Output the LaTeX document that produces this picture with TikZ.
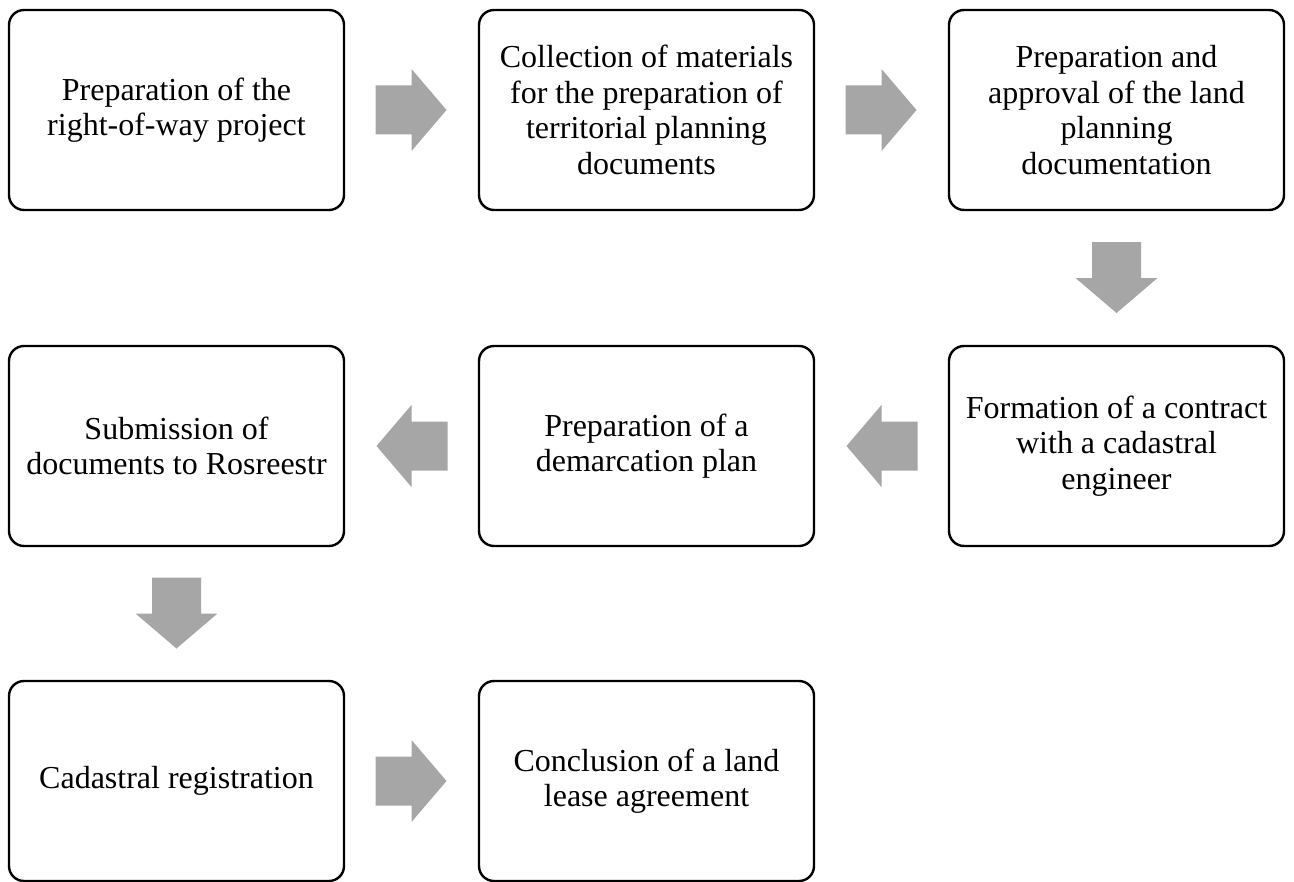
\documentclass[tikz,border=0pt]{standalone}
\usepackage{fontspec}
\setmainfont{Liberation Serif}
\usetikzlibrary{positioning, calc}

\definecolor{arrowgray}{RGB}{166,166,166}

\begin{document}
\begin{tikzpicture}[
    x=0.5pt, y=-0.5pt,
    step box/.style={rectangle, draw=black, line width=1.2pt, rounded corners=7.5pt, minimum width=167.5pt, minimum height=100pt, outer sep=0pt, align=center, font=\fontsize{16pt}{17.75pt}\selectfont, inner sep=0pt},
    blockarrow/.pic={\fill[arrowgray] (-36,-24.5) -- (0,-24.5) -- (0,-41) -- (35,0) -- (0,41) -- (0,24.5) -- (-36,24.5) -- cycle;}
]
\useasboundingbox (0,0) rectangle (1294,882);

% Row 1
\node[step box] (row) at (176.5, 110) {Preparation of the\\right-of-way project};
\node[step box, right=67.5pt of row] (collect) {Collection of materials\\for the preparation of\\territorial planning\\documents};
\node[step box, right=67.5pt of collect] (approve) {Preparation and\\approval of the land\\planning\\documentation};

% Row 2
\node[step box, below=68pt of approve] (contract) {Formation of a contract\\with a cadastral\\engineer};
\node[step box, left=67.5pt of contract] (demarc) {Preparation of a\\demarcation plan};
\node[step box, left=67.5pt of demarc] (submit) {Submission of\\documents to Rosreestr};

% Row 3
\node[step box, below=67.5pt of submit] (cadastr) {Cadastral registration};
\node[step box, right=67.5pt of cadastr] (lease) {Conclusion of a land\\lease agreement};

% Arrows
\pic at ($(row.east)!0.5!(collect.west)$) {blockarrow};
\pic at ($(collect.east)!0.5!(approve.west)$) {blockarrow};
\pic[rotate=-90] at ($(approve.south)!0.5!(contract.north)$) {blockarrow};
\pic[rotate=180] at ($(contract.west)!0.5!(demarc.east)$) {blockarrow};
\pic[rotate=180] at ($(demarc.west)!0.5!(submit.east)$) {blockarrow};
\pic[rotate=-90] at ($(submit.south)!0.5!(cadastr.north)$) {blockarrow};
\pic at ($(cadastr.east)!0.5!(lease.west)$) {blockarrow};

\end{tikzpicture}
\end{document}
